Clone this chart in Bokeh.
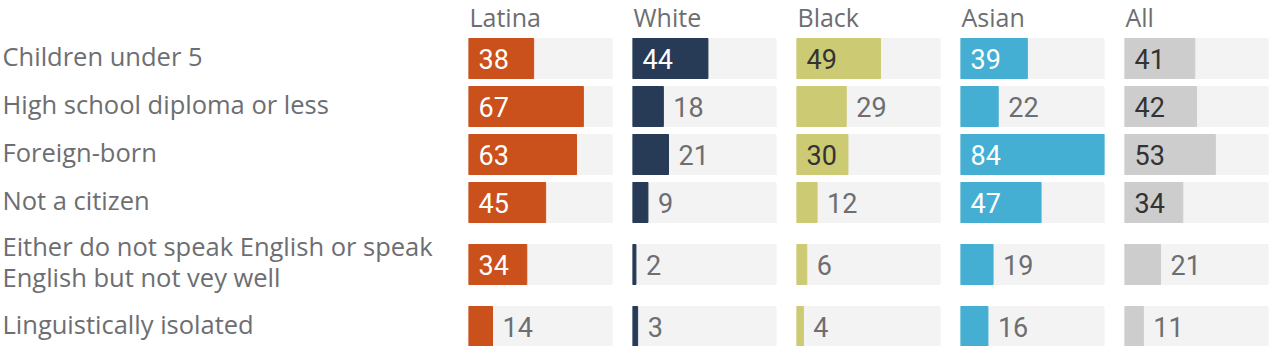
from bokeh.plotting import figure
from bokeh.layouts import row
from bokeh.models import Range1d, ColumnDataSource
from bokeh.core.properties import value
from bokeh.embed import file_html
from bokeh.resources import INLINE

# Share of women (%) with each characteristic, by group
groups = ["Latina", "White", "Black", "Asian", "All"]
row_labels = [
    "Children under 5",
    "High school diploma or less",
    "Foreign-born",
    "Not a citizen",
    "Either do not speak English or speak\nEnglish but not vey well",
    "Linguistically isolated",
]
latina = [38, 67, 63, 45, 34, 14]
white = [44, 18, 21, 9, 2, 3]
black = [49, 29, 30, 12, 6, 4]
asian = [39, 22, 84, 47, 19, 16]
all_women = [41, 42, 53, 34, 21, 11]

series = [latina, white, black, asian, all_women]
bar_colors = ["#ca501c", "#273a56", "#cdca74", "#45afd3", "#cdcdcd"]
inside_text_colors = ["#ffffff", "#ffffff", "#333333", "#ffffff", "#333333"]
outside_text_color = "#6d6e71"
track_color = "#f3f3f3"
label_color = "#6d6e71"
inside_threshold = 30

H = 346
HEADER_H = 34
LINE_BAND = 48
EXTRA_LINE = 28
BAR_H = 40
LABEL_FONT = "Open Sans"
VALUE_FONT = "Roboto"

# vertical layout: each row band grows with the number of label lines
centers = []
top = HEADER_H
for lab in row_labels:
    band = LINE_BAND + EXTRA_LINE * (lab.count("\n"))
    centers.append(top + band / 2)
    top += band

max_val = max(max(s) for s in series)


def blank(p):
    p.xaxis.visible = False
    p.yaxis.visible = False
    p.xgrid.visible = False
    p.ygrid.visible = False
    p.outline_line_color = None
    p.background_fill_color = None
    p.border_fill_color = "white"
    return p


# row labels
lab_fig = figure(width=468, height=H, x_range=Range1d(0, 468), y_range=Range1d(H, 0),
                 output_backend="svg", toolbar_location=None,
                 min_border=0, min_border_left=0, min_border_right=0,
                 min_border_top=0, min_border_bottom=0)
blank(lab_fig)
lab_fig.text(x=[2] * len(row_labels), y=[c - 3 for c in centers], text=row_labels,
             text_font=value(LABEL_FONT), text_font_size="25.5px",
             text_color=label_color, text_baseline="middle", text_align="left",
             text_line_height=0.92)

panels = [lab_fig]
for i, (name, vals) in enumerate(zip(groups, series)):
    last = i == len(groups) - 1
    right_pad = 12 if last else 20
    p = figure(width=144 + right_pad, height=H, x_range=Range1d(0, max_val),
               y_range=Range1d(H, 0), output_backend="svg", toolbar_location=None,
               min_border=0, min_border_left=0, min_border_right=right_pad,
               min_border_top=0, min_border_bottom=0)
    blank(p)

    src = ColumnDataSource(dict(
        y=centers,
        v=vals,
        track=[max_val] * len(vals),
        tx=[v if v < inside_threshold else 0 for v in vals],
        tc=[outside_text_color if v < inside_threshold else inside_text_colors[i] for v in vals],
        label=[str(v) for v in vals],
    ))
    p.hbar(y="y", left=0, right="track", height=BAR_H, color=track_color, source=src)
    p.hbar(y="y", left=0, right="v", height=BAR_H, color=bar_colors[i], source=src)
    p.text(x="tx", y="y", text="label", x_offset=10, source=src,
           text_font=value(VALUE_FONT), text_font_size="27px", text_color="tc",
           text_baseline="middle", text_align="left")
    p.text(x=[0], y=[HEADER_H / 2 - 1], text=[name], x_offset=1,
           text_font=value(LABEL_FONT), text_font_size="25px", text_color=label_color,
           text_baseline="middle", text_align="left")
    panels.append(p)

layout = row(*panels, spacing=0)

with open("out.html", "w") as f:
    f.write(file_html(layout, INLINE))
